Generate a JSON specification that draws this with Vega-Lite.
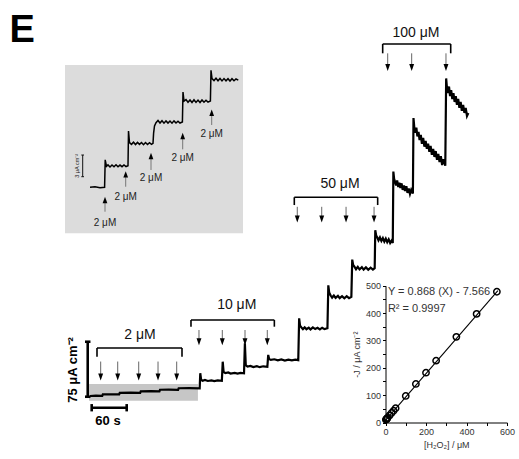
{
  "$schema": "https://vega.github.io/schema/vega-lite/v6.json",
  "width": 519,
  "height": 459,
  "padding": 0,
  "autosize": {"type": "none"},
  "background": "white",
  "config": {"view": {"stroke": null}, "font": "Liberation Sans"},
  "datasets": {
    "trace": [
      {"t":0,"j":0},{"t":10,"j":0.4},{"t":21,"j":0.1},{"t":22,"j":2.2},{"t":35,"j":2.4},{"t":50,"j":2.1},{"t":51,"j":4.3},{"t":70,"j":4.5},{"t":86,"j":4.2},{"t":87,"j":6.4},{"t":105,"j":6.6},{"t":119,"j":6.3},{"t":120,"j":8.5},{"t":135,"j":8.7},{"t":151,"j":8.4},{"t":152,"j":10.6},{"t":170,"j":10.8},{"t":188,"j":10.5},
      {"t":189,"j":31},{"t":190.5,"j":22},{"t":193,"j":20.8},{"t":197,"j":21.9},{"t":202,"j":20.5},{"t":208,"j":21.3},{"t":213,"j":20.4},{"t":219,"j":21.4},{"t":226,"j":20.7},
      {"t":227.5,"j":46.8},{"t":229,"j":33},{"t":232,"j":31.2},{"t":237,"j":32.1},{"t":241,"j":30.6},{"t":248,"j":31.6},{"t":253,"j":30.5},{"t":258,"j":31.5},{"t":264,"j":30.9},
      {"t":265.5,"j":72},{"t":267,"j":42},{"t":270,"j":40.2},{"t":275,"j":41.1},{"t":280,"j":39.5},{"t":286,"j":40.6},{"t":291,"j":39.3},{"t":297,"j":40.5},{"t":304,"j":39.8},
      {"t":305.5,"j":56},{"t":307,"j":50.5},{"t":310,"j":49.2},{"t":316,"j":50.1},{"t":322,"j":48.6},{"t":328,"j":49.8},{"t":334,"j":48.4},{"t":340,"j":49.6},{"t":346,"j":48.5},{"t":352,"j":49.5},{"t":357,"j":48.9},
      {"t":358.5,"j":106},{"t":360,"j":96},{"t":362.5,"j":93.5},{"t":365,"j":91.2},{"t":368,"j":93.6},{"t":371,"j":91},{"t":375,"j":93.2},{"t":378,"j":90.8},{"t":382,"j":93.5},{"t":386,"j":91.3},{"t":390,"j":92.9},{"t":394,"j":90.7},{"t":398,"j":93.1},{"t":402,"j":91.2},{"t":407,"j":92.4},
      {"t":408.5,"j":151},{"t":410,"j":141},{"t":412.5,"j":137},{"t":415,"j":134.2},{"t":418,"j":137},{"t":421,"j":133.8},{"t":425,"j":136.6},{"t":428,"j":133.5},{"t":432,"j":136.2},{"t":436,"j":133.2},{"t":440,"j":136},{"t":444,"j":133.4},{"t":448,"j":135.2},
      {"t":449.5,"j":186},{"t":451,"j":179},{"t":453.5,"j":176},{"t":456,"j":172.8},{"t":459,"j":176},{"t":462,"j":172.6},{"t":466,"j":175.7},{"t":469,"j":172.4},{"t":473,"j":175.4},{"t":477,"j":172.2},{"t":481,"j":175.1},{"t":485,"j":172.5},{"t":488,"j":174.2},
      {"t":489,"j":226},{"t":490.5,"j":219},{"t":492.5,"j":216},{"t":494.5,"j":212.3},{"t":497,"j":216.2},{"t":499.5,"j":211.5},{"t":502,"j":215.4},{"t":504.5,"j":210.6},{"t":507,"j":214.5},{"t":509.5,"j":209.8},{"t":512,"j":213.6},{"t":514.5,"j":208.7},{"t":517,"j":212},{"t":519,"j":208.5},
      {"t":520,"j":306},{"t":521.3,"j":296},{"t":523,"j":292},{"t":524.8,"j":287},{"t":526.5,"j":294},{"t":528.4,"j":285},{"t":530.2,"j":291},{"t":532,"j":283.5},{"t":534.1,"j":290},{"t":536,"j":281},{"t":538.2,"j":287},{"t":540.1,"j":279.5},{"t":542.3,"j":286},{"t":544.2,"j":277},{"t":546.4,"j":283},{"t":548.5,"j":275.5},{"t":550.6,"j":281},{"t":553.5,"j":276},
      {"t":554.5,"j":379},{"t":555.8,"j":367},{"t":557.6,"j":359},{"t":559.4,"j":366},{"t":561.2,"j":354},{"t":563.1,"j":360},{"t":565,"j":349},{"t":567,"j":356},{"t":569,"j":344},{"t":571.1,"j":352},{"t":573.2,"j":340},{"t":575.3,"j":348},{"t":577.4,"j":337},{"t":579.5,"j":344},{"t":581.7,"j":333},{"t":583.8,"j":341},{"t":586,"j":329},{"t":588.2,"j":337},{"t":590.4,"j":326},{"t":592.6,"j":334},{"t":594.8,"j":322},{"t":597,"j":330},{"t":599.2,"j":319},{"t":601.4,"j":327},{"t":603.6,"j":315},{"t":605.8,"j":323},{"t":609,"j":314},
      {"t":610.5,"j":433},{"t":611.8,"j":421},{"t":613.6,"j":413},{"t":615.4,"j":422},{"t":617.2,"j":409},{"t":619.1,"j":417},{"t":621,"j":405},{"t":623,"j":413},{"t":625,"j":401},{"t":627,"j":409},{"t":629,"j":397},{"t":631.1,"j":405},{"t":633.2,"j":393},{"t":635.3,"j":401},{"t":637.4,"j":389},{"t":639.6,"j":397},{"t":641.8,"j":386},{"t":644,"j":393},{"t":646.2,"j":382},{"t":648.5,"j":386}
    ],
    "brackets": [
      {"t":12,"t2":157.7,"j":65.5,"j2":65.5},{"t":12,"t2":12,"j":65.5,"j2":53.6},{"t":157.7,"t2":157.7,"j":65.5,"j2":53.6},
      {"t":173.1,"t2":316,"j":103.6,"j2":103.6},{"t":173.1,"t2":173.1,"j":103.6,"j2":94.5},{"t":316,"t2":316,"j":103.6,"j2":94.5},
      {"t":350.2,"t2":493.1,"j":271,"j2":271},{"t":350.2,"t2":350.2,"j":271,"j2":260.4},{"t":493.1,"t2":493.1,"j":271,"j2":260.4},
      {"t":501.7,"t2":618.3,"j":480,"j2":480},{"t":501.7,"t2":501.7,"j":480,"j2":467.3},{"t":618.3,"t2":618.3,"j":480,"j2":467.3}
    ],
    "arrows": [
      {"t":18.3,"j":47,"j2":29,"h":25.9},{"t":47.5,"j":47,"j2":29,"h":25.9},{"t":83.5,"j":47,"j2":29,"h":25.9},{"t":116.6,"j":47,"j2":29,"h":25.9},{"t":148.6,"j":47,"j2":29,"h":25.9},
      {"t":186.8,"j":90,"j2":77,"h":74},{"t":226.8,"j":90,"j2":77,"h":74},{"t":265.7,"j":90,"j2":77,"h":74},{"t":303.9,"j":90,"j2":77,"h":74},
      {"t":355.3,"j":258,"j2":244,"h":241.4},{"t":397.2,"j":258,"j2":244,"h":241.4},{"t":438.9,"j":258,"j2":244,"h":241.4},{"t":486.9,"j":258,"j2":244,"h":241.4},
      {"t":510.3,"j":467.3,"j2":451,"h":447.9},{"t":551.4,"j":467.3,"j2":451,"h":447.9},{"t":610.2,"j":467.3,"j2":451,"h":447.9}
    ],
    "labels": [
      {"t":85.7,"j":83.2,"label":"2 μM"},
      {"t":251.5,"j":124,"label":"10 μM"},
      {"t":428.5,"j":289,"label":"50 μM"},
      {"t":558.8,"j":495,"label":"100 μM"}
    ],
    "bars": [
      {"t":-3.9,"t2":-3.9,"j":-1,"j2":74},{"t":-8.6,"t2":0.8,"j":-1,"j2":-1},{"t":-8.6,"t2":0.8,"j":74,"j2":74},
      {"t":2.9,"t2":62.9,"j":-16,"j2":-16},{"t":2.9,"t2":2.9,"j":-11,"j2":-21},{"t":62.9,"t2":62.9,"j":-11,"j2":-21}
    ],
    "inset_trace": [
      {"t":25,"j":0},{"t":30,"j":0.08},{"t":35,"j":-0.06},{"t":39.6,"j":0},{"t":40.2,"j":3.8},{"t":41.5,"j":2.9},{"t":43,"j":3.1},{"t":45,"j":2.82},{"t":47,"j":3.1},{"t":49,"j":2.85},{"t":51,"j":3.12},{"t":53,"j":2.84},{"t":55,"j":3.08},{"t":57,"j":2.86},{"t":59,"j":3.1},{"t":61,"j":2.88},{"t":63,"j":3.0},
      {"t":63.5,"j":7.8},{"t":64.5,"j":6.2},{"t":66.5,"j":5.95},{"t":68.5,"j":6.25},{"t":70.5,"j":5.92},{"t":72.5,"j":6.22},{"t":74.5,"j":5.95},{"t":76.5,"j":6.2},{"t":78.5,"j":5.9},{"t":80.5,"j":6.2},{"t":82.5,"j":5.92},{"t":84.5,"j":6.18},{"t":86.5,"j":5.95},{"t":88,"j":6.1},
      {"t":88.6,"j":7.5},{"t":89.5,"j":8.5},{"t":91,"j":8.95},{"t":93,"j":9.25},{"t":95,"j":8.9},{"t":97,"j":9.22},{"t":99,"j":8.88},{"t":101,"j":9.2},{"t":103,"j":8.9},{"t":105,"j":9.18},{"t":107,"j":8.88},{"t":109,"j":9.2},{"t":111,"j":8.9},{"t":113,"j":9.16},{"t":115,"j":8.9},{"t":117.4,"j":9.05},
      {"t":118,"j":13.2},{"t":119,"j":11.95},{"t":121,"j":12.15},{"t":123,"j":11.78},{"t":125,"j":12.1},{"t":127,"j":11.75},{"t":129,"j":12.12},{"t":131,"j":11.76},{"t":133,"j":12.08},{"t":135,"j":11.74},{"t":137,"j":12.1},{"t":139,"j":11.78},{"t":141,"j":12.05},{"t":143,"j":11.8},{"t":145.4,"j":11.95},
      {"t":146,"j":16.2},{"t":147,"j":15.05},{"t":149,"j":14.78},{"t":151,"j":15.1},{"t":153,"j":14.76},{"t":155,"j":15.08},{"t":157,"j":14.74},{"t":159,"j":15.06},{"t":161,"j":14.75},{"t":163,"j":15.05},{"t":165,"j":14.72},{"t":167,"j":15.04},{"t":169,"j":14.76},{"t":171,"j":15.0},{"t":173.3,"j":14.85}
    ],
    "inset_arrows": [
      {"t":40,"j":-1.76,"j2":-3.38,"label":"2 μM","lj":-4.92},
      {"t":60.7,"j":1.8,"j2":0.08,"label":"2 μM","lj":-1.37},
      {"t":86,"j":4.34,"j2":2.4,"label":"2 μM","lj":1.22},
      {"t":117.7,"j":7.11,"j2":5.26,"label":"2 μM","lj":4.02},
      {"t":146.7,"j":10.33,"j2":8.63,"label":"2 μM","lj":7.38}
    ],
    "inset_bar": [
      {"t":17.7,"t2":17.7,"j":1.47,"j2":4.47},{"t":16.3,"t2":19,"j":1.47,"j2":1.47},{"t":16.3,"t2":19,"j":4.47,"j2":4.47}
    ],
    "calib": [
      {"c":2,"r":10},{"c":4,"r":12},{"c":6,"r":13},{"c":8,"r":15},{"c":10,"r":17},{"c":20,"r":26},{"c":30,"r":35},{"c":40,"r":43},{"c":50,"r":52},
      {"c":100,"r":97},{"c":150,"r":141},{"c":200,"r":182},{"c":250,"r":226},{"c":350,"r":313},{"c":450,"r":397},{"c":550,"r":478}
    ]
  },
  "layer": [
    {
      "encoding": {
        "x": {"field": "t", "type": "quantitative", "axis": null, "scale": {"domain": [0, 650], "range": [90, 469.2], "nice": false, "zero": false}},
        "y": {"field": "j", "type": "quantitative", "axis": null, "scale": {"domain": [0, 450], "range": [396, 66], "nice": false, "zero": false}}
      },
      "layer": [
        {
          "data": {"values": [{"t": -1.7, "t2": 185, "j": -6.4, "j2": 16.4}]},
          "mark": {"type": "rect", "fill": "#c6c6c6"},
          "encoding": {"x2": {"field": "t2"}, "y2": {"field": "j2"}}
        },
        {
          "data": {"name": "trace"},
          "mark": {"type": "line", "color": "#000000", "strokeWidth": 2.2, "strokeJoin": "miter"}
        },
        {
          "data": {"name": "brackets"},
          "mark": {"type": "rule", "color": "#000000", "strokeWidth": 1.6},
          "encoding": {"x2": {"field": "t2"}, "y2": {"field": "j2"}}
        },
        {
          "data": {"name": "bars"},
          "mark": {"type": "rule", "color": "#000000", "strokeWidth": 2.6},
          "encoding": {"x2": {"field": "t2"}, "y2": {"field": "j2"}}
        },
        {
          "data": {"name": "arrows"},
          "mark": {"type": "rule", "color": "#666666", "strokeWidth": 1},
          "encoding": {"y2": {"field": "j2"}}
        },
        {
          "data": {"name": "arrows"},
          "mark": {"type": "point", "shape": "M-0.7,-1L0.7,-1L0,1Z", "filled": true, "color": "#000000", "size": 49, "opacity": 1},
          "encoding": {"y": {"field": "h", "type": "quantitative"}}
        },
        {
          "data": {"name": "labels"},
          "mark": {"type": "text", "fontSize": 14, "color": "#111111", "align": "center", "baseline": "middle"},
          "encoding": {"text": {"field": "label"}}
        },
        {
          "data": {"values": [{"t": -28.6, "j": 35.5, "label": "75 μA cm⁻²"}]},
          "mark": {"type": "text", "fontSize": 13, "fontWeight": "bold", "angle": 270, "color": "#000000", "align": "center", "baseline": "middle"},
          "encoding": {"text": {"field": "label"}}
        },
        {
          "data": {"values": [{"t": 30.9, "j": -34, "label": "60 s"}]},
          "mark": {"type": "text", "fontSize": 13, "fontWeight": "bold", "color": "#000000", "align": "center", "baseline": "middle"},
          "encoding": {"text": {"field": "label"}}
        },
        {
          "data": {"values": [{"t": -138, "j": 483.1, "label": "E"}]},
          "mark": {"type": "text", "fontSize": 38, "fontWeight": "bold", "color": "#000000", "align": "left", "baseline": "alphabetic"},
          "encoding": {"text": {"field": "label"}}
        }
      ]
    },
    {
      "encoding": {
        "x": {"field": "t", "type": "quantitative", "axis": null, "scale": {"domain": [0, 178], "range": [65, 243], "nice": false, "zero": false}},
        "y": {"field": "j", "type": "quantitative", "axis": null, "scale": {"domain": [-6.37, 16.94], "range": [233.3, 65], "nice": false, "zero": false}}
      },
      "layer": [
        {
          "data": {"values": [{"t": 0, "t2": 178, "j": -6.37, "j2": 16.94}]},
          "mark": {"type": "rect", "fill": "#dcdcdc"},
          "encoding": {"x2": {"field": "t2"}, "y2": {"field": "j2"}}
        },
        {
          "data": {"name": "inset_trace"},
          "mark": {"type": "line", "color": "#000000", "strokeWidth": 1.5}
        },
        {
          "data": {"name": "inset_arrows"},
          "mark": {"type": "rule", "color": "#777777", "strokeWidth": 1},
          "encoding": {"y2": {"field": "j2"}}
        },
        {
          "data": {"name": "inset_arrows"},
          "mark": {"type": "point", "shape": "M-0.75,1L0.75,1L0,-1Z", "filled": true, "color": "#000000", "size": 40, "opacity": 1}
        },
        {
          "data": {"name": "inset_arrows"},
          "mark": {"type": "text", "fontSize": 10, "color": "#222222", "align": "center", "baseline": "middle"},
          "encoding": {"y": {"field": "lj", "type": "quantitative"}, "text": {"field": "label"}}
        },
        {
          "data": {"name": "inset_bar"},
          "mark": {"type": "rule", "color": "#111111", "strokeWidth": 1},
          "encoding": {"x2": {"field": "t2"}, "y2": {"field": "j2"}}
        },
        {
          "data": {"values": [{"t": 11.8, "j": 2.97, "label": "3 μA cm⁻²"}]},
          "mark": {"type": "text", "fontSize": 5.5, "angle": 270, "color": "#222222", "align": "center", "baseline": "middle"},
          "encoding": {"text": {"field": "label"}}
        }
      ]
    },
    {
      "encoding": {
        "x": {
          "field": "c", "type": "quantitative",
          "scale": {"domain": [0, 600], "range": [385.5, 507], "nice": false, "zero": false},
          "axis": {
            "orient": "bottom", "offset": -36.5, "values": [0, 100, 200, 300, 400, 500, 600],
            "labelExpr": "datum.value % 200 == 0 ? datum.label : ''",
            "grid": false, "tickSize": 3, "tickColor": "#000000", "domainColor": "#000000",
            "labelFontSize": 9, "labelColor": "#333333", "labelPadding": 2, "labelFlush": false,
            "title": "[H₂O₂] / μM", "titleFontSize": 9, "titleFontWeight": "normal", "titleColor": "#333333", "titlePadding": 4
          }
        },
        "y": {
          "field": "r", "type": "quantitative",
          "scale": {"domain": [0, 500], "range": [422.5, 285.7], "nice": false, "zero": false},
          "axis": {
            "orient": "left", "offset": -385.5, "values": [0, 50, 100, 150, 200, 250, 300, 350, 400, 450, 500],
            "labelExpr": "datum.value % 100 == 0 ? datum.label : ''",
            "grid": false, "tickSize": 3, "tickColor": "#000000", "domainColor": "#000000",
            "labelFontSize": 9, "labelColor": "#333333", "labelPadding": 2, "labelFlush": false,
            "title": "-J / μA cm⁻²", "titleFontSize": 9, "titleFontWeight": "normal", "titleColor": "#333333", "titlePadding": 4
          }
        }
      },
      "layer": [
        {
          "data": {"values": [{"c": 0, "r": 8, "c2": 555, "r2": 482}]},
          "mark": {"type": "rule", "color": "#000000", "strokeWidth": 1.1},
          "encoding": {"x2": {"field": "c2"}, "y2": {"field": "r2"}}
        },
        {
          "data": {"name": "calib"},
          "mark": {"type": "point", "shape": "circle", "filled": false, "color": "#000000", "strokeWidth": 1.5, "size": 40, "opacity": 1}
        },
        {
          "data": {"values": [{"c": 12, "r": 477, "label": "Y = 0.868 (X) - 7.566"}, {"c": 12, "r": 414.8, "label": "R² = 0.9997"}]},
          "mark": {"type": "text", "fontSize": 11, "color": "#333333", "align": "left", "baseline": "middle"},
          "encoding": {"text": {"field": "label"}}
        }
      ]
    }
  ],
  "resolve": {"scale": {"x": "independent", "y": "independent"}}
}
